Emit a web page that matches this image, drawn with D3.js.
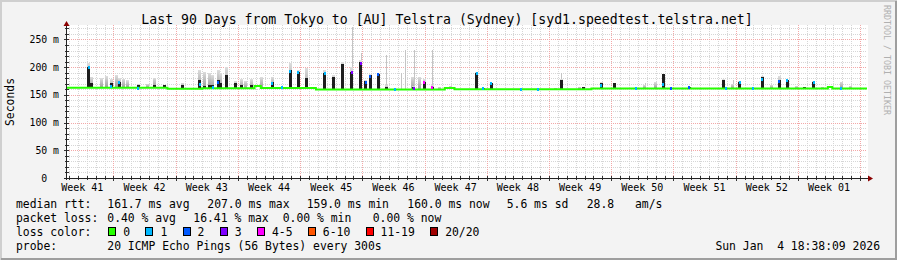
<!DOCTYPE html>
<html>
<head>
<meta charset="utf-8">
<script src="https://cdn.jsdelivr.net/npm/d3@7/dist/d3.min.js"></script>
<style>
  body { margin: 0; background: #f3f3f3; }
  svg { display: block; }
  text { font-family: "DejaVu Sans Mono", monospace; fill: #000; white-space: pre; }
</style>
</head>
<body>
<svg id="chart"></svg>
<script>
const title = "Last 90 Days from Tokyo to [AU] Telstra (Sydney) [syd1.speedtest.telstra.net]";
const startTime = Date.UTC(2025, 9, 6, 18, 38, 9);
const endTime = Date.UTC(2026, 0, 4, 18, 38, 9);
const weekLabels = ["Week 41", "Week 42", "Week 43", "Week 44", "Week 45", "Week 46", "Week 47",
                    "Week 48", "Week 49", "Week 50", "Week 51", "Week 52", "Week 01"];
const yTicks = [0, 50, 100, 150, 200, 250];
const yLabels = ["0  ", "50 m", "100 m", "150 m", "200 m", "250 m"];

// median rtt (ms), step after: [day since start, value]
const medianSteps = [[0, 163], [11.3, 161], [15.2, 162], [21.1, 166], [21.8, 162.5], [28.0, 159.5],
                     [42.5, 162.5], [43.6, 160], [59.0, 161.5], [85.6, 164], [86.1, 161.5], [90, 161.5]];

// smoke columns: [day, dark top ms, light smoke top ms]
const spikes = [
  [2.47, 201, 208], [2.81, 171, 183], [3.83, 0, 180], [4.39, 0, 184], [4.95, 171, 178],
  [5.62, 0, 186], [5.85, 174, 180], [6.41, 0, 179], [6.86, 0, 176], [7.99, 168, 170],
  [9.0, 0, 170], [9.79, 167, 181], [11.0, 168, 168], [12.94, 168, 172], [14.96, 177, 195],
  [15.5, 166, 192], [16.0, 168, 190], [16.4, 168, 186], [17.0, 177, 195], [17.3, 171, 190],
  [17.9, 186, 201], [18.9, 171, 175], [19.6, 167, 178], [20.1, 0, 175], [20.7, 167, 178],
  [21.2, 166, 166], [21.9, 0, 182], [23.1, 174, 183], [24.2, 165, 165], [25.1, 194, 208],
  [26.0, 192, 195], [26.9, 181, 198], [27.9, 163, 163], [29.0, 189, 195], [30.0, 183, 186],
  [31.05, 205, 209], [32.06, 192, 200], [33.07, 209, 212], [33.6, 175, 177], [34.1, 185, 187],
  [35.0, 187, 190], [35.9, 165, 168], [38.9, 0, 183], [39.0, 164, 166], [39.6, 0, 183],
  [40.2, 174, 178], [41.1, 165, 167], [41.85, 0, 165], [43.1, 0, 166], [46.1, 190, 192],
  [46.8, 162, 162], [47.7, 171, 172], [54.9, 0, 163], [55.6, 177, 179], [57.6, 0, 165],
  [58.1, 164, 164], [60.1, 171, 173], [61.6, 171, 171], [65.0, 0, 168], [66.2, 0, 173],
  [67.05, 188, 188], [70.0, 164, 164], [73.8, 177, 178], [74.9, 0, 170], [75.7, 174, 175],
  [78.2, 183, 184], [79.2, 0, 168], [80.1, 177, 184], [81.0, 177, 177], [82.1, 0, 166],
  [83.0, 164, 164], [84.0, 174, 175], [85.0, 0, 165], [87.1, 0, 174], [88.1, 0, 166]
];
// single outlier pings: [day, top ms]
const outliers = [[32.06, 273], [33.07, 225], [35.9, 222], [37.6, 189], [38.0, 231], [39.0, 231],
                  [41.1, 231], [55.6, 189], [65.0, 171], [74.9, 176]];
// median marks with packet loss: [day, ms, loss class]
const lossMarks = [
  [2.47, 200, 1], [4.95, 165, 1], [5.85, 172, 1], [7.99, 162, 1], [14.96, 168, 1], [16.4, 163, 1],
  [17.0, 172, 2], [23.1, 170, 1], [24.2, 163, 1], [25.1, 193, 1], [26.0, 190, 1], [29.0, 188, 1],
  [32.06, 191, 3], [33.07, 207, 3], [33.6, 173, 2], [34.1, 183, 2], [35.0, 186, 2], [36.9, 160, 1],
  [39.0, 162, 3], [40.2, 172, 4], [41.1, 163, 4], [46.1, 188, 1], [46.8, 161, 1], [47.7, 170, 1],
  [51.1, 160, 1], [53.0, 160, 1], [60.1, 166, 1], [64.0, 161, 1], [67.05, 169, 1], [67.9, 161, 2],
  [70.0, 163, 2], [74.1, 161, 1], [75.7, 172, 1], [77.2, 161, 1], [78.2, 178, 1], [80.1, 174, 2],
  [81.0, 176, 1], [84.0, 172, 1], [87.1, 161, 1]
];

const lossColors = ["#26ff00", "#00b8ff", "#0059ff", "#7e00ff", "#ff00ff", "#ff5500", "#ff0000", "#a00000"];
const lossLabels = ["0", "1", "2", "3", "4-5", "6-10", "11-19", "20/20"];
const rttStats = ["161.7 ms avg", "207.0 ms max", "159.0 ms min", "160.0 ms now", "5.6 ms sd", "28.8", "am/s"];
const lossStats = ["0.40 % avg", "16.41 % max", "0.00 % min", "0.00 % now"];
const probeText = "20 ICMP Echo Pings (56 Bytes) every 300s";
const stamp = "Sun Jan  4 18:38:09 2026";

const W = 897, H = 260;
const plot = { left: 67, right: 867, top: 25, bottom: 178 };
const DAY = 86400000;
const day = d => new Date(startTime + d * DAY);

const svg = d3.select("#chart").attr("width", W).attr("height", H);

const grad = svg.append("defs").append("linearGradient")
  .attr("id", "smokeFade").attr("x1", 0).attr("y1", 0).attr("x2", 0).attr("y2", 1);
grad.append("stop").attr("offset", "0%").attr("stop-color", "#dedede");
grad.append("stop").attr("offset", "100%").attr("stop-color", "#9a9a9a");

// frame
svg.append("rect").attr("width", W).attr("height", H).attr("fill", "#f3f3f3");
svg.append("path").attr("d", `M1,${H} V1 H${W}`).attr("stroke", "#cfcfcf").attr("stroke-width", 2).attr("fill", "none");
svg.append("path").attr("d", `M1,${H - 1} H${W - 1} V1`).attr("stroke", "#9e9e9e").attr("stroke-width", 2).attr("fill", "none");

const x = d3.scaleTime().domain([new Date(startTime), new Date(endTime)]).range([plot.left, plot.right]);
const y = d3.scaleLinear().domain([0, 276]).range([plot.bottom, plot.top]);

svg.append("rect")
  .attr("x", plot.left).attr("y", plot.top)
  .attr("width", plot.right - plot.left + 1).attr("height", plot.bottom - plot.top)
  .attr("fill", "#fff");

// grid
const grid = svg.append("g").attr("shape-rendering", "crispEdges");
const days = d3.utcDay.range(new Date(startTime), new Date(endTime));
const sundays = d3.utcSunday.range(new Date(startTime), new Date(endTime));
const minorY = d3.range(10, 280, 10).filter(v => v % 50 !== 0);
const majorY = yTicks.filter(v => v > 0);

grid.selectAll(".vmin").data(days.filter(d => d.getUTCDay() !== 0)).join("line")
  .attr("x1", d => Math.round(x(d)) + 0.5).attr("x2", d => Math.round(x(d)) + 0.5)
  .attr("y1", plot.top).attr("y2", plot.bottom)
  .attr("stroke", "#d6d6d6").attr("stroke-dasharray", "1,1");
grid.selectAll(".hmin").data(minorY).join("line")
  .attr("x1", plot.left).attr("x2", plot.right)
  .attr("y1", d => Math.round(y(d)) + 0.5).attr("y2", d => Math.round(y(d)) + 0.5)
  .attr("stroke", "#d6d6d6").attr("stroke-dasharray", "1,1");
grid.selectAll(".vmaj").data(sundays).join("line")
  .attr("x1", d => Math.round(x(d)) + 0.5).attr("x2", d => Math.round(x(d)) + 0.5)
  .attr("y1", plot.top).attr("y2", plot.bottom)
  .attr("stroke", "#f3a8a8").attr("stroke-dasharray", "1,1");
grid.selectAll(".hmaj").data(majorY).join("line")
  .attr("x1", plot.left).attr("x2", plot.right)
  .attr("y1", d => Math.round(y(d)) + 0.5).attr("y2", d => Math.round(y(d)) + 0.5)
  .attr("stroke", "#f3a8a8").attr("stroke-dasharray", "1,1");

// smoke
const medianAt = d => { let v = medianSteps[0][1]; medianSteps.forEach(s => { if (s[0] <= d) v = s[1]; }); return v; };
const smoke = svg.append("g").attr("shape-rendering", "crispEdges");
smoke.selectAll(".out").data(outliers).join("rect")
  .attr("x", d => Math.round(x(day(d[0])))).attr("width", 1)
  .attr("y", d => y(d[1])).attr("height", d => y(medianAt(d[0])) - y(d[1]))
  .attr("fill", "#c4c4c4");
smoke.selectAll(".light").data(spikes).join("rect")
  .attr("x", d => Math.round(x(day(d[0])) - 1.5)).attr("width", 3)
  .attr("y", d => y(d[2])).attr("height", d => Math.max(0, y(medianAt(d[0])) - y(d[2])))
  .attr("fill", "url(#smokeFade)");
smoke.selectAll(".dark").data(spikes.filter(d => d[1] > 0)).join("rect")
  .attr("x", d => Math.round(x(day(d[0])) - 1.5)).attr("width", 3)
  .attr("y", d => y(d[1])).attr("height", d => Math.max(0, y(medianAt(d[0])) - y(d[1])))
  .attr("fill", "#1e1e1e");

// median line
const medianLine = d3.line().x(d => x(day(d[0]))).y(d => y(d[1])).curve(d3.curveStepAfter);
svg.append("path").datum(medianSteps).attr("d", medianLine)
  .attr("fill", "none").attr("stroke", lossColors[0]).attr("stroke-width", 2);

svg.append("g").attr("shape-rendering", "crispEdges")
  .selectAll("rect").data(lossMarks).join("rect")
  .attr("x", d => Math.round(x(day(d[0])) - 1)).attr("width", 2)
  .attr("y", d => y(d[1]) - 1.5).attr("height", 3)
  .attr("fill", d => lossColors[d[2]]);

// axes
const axisG = svg.append("g").attr("shape-rendering", "crispEdges");
axisG.selectAll(".ytick").data(d3.range(0, 280, 10)).join("line")
  .attr("x1", d => d % 50 === 0 ? plot.left - 3 : plot.left - 2).attr("x2", plot.left + 2)
  .attr("y1", d => Math.round(y(d)) + 0.5).attr("y2", d => Math.round(y(d)) + 0.5)
  .attr("stroke", "#333");
axisG.selectAll(".xtick").data(days).join("line")
  .attr("x1", d => Math.round(x(d)) + 0.5).attr("x2", d => Math.round(x(d)) + 0.5)
  .attr("y1", plot.bottom - 2).attr("y2", d => d.getUTCDay() === 0 ? plot.bottom + 3 : plot.bottom + 2)
  .attr("stroke", "#333");
axisG.append("line").attr("x1", plot.left - 0.5).attr("x2", plot.left - 0.5)
  .attr("y1", plot.bottom + 2).attr("y2", plot.top - 2).attr("stroke", "#222");
axisG.append("line").attr("x1", plot.left - 3).attr("x2", plot.right + 3)
  .attr("y1", plot.bottom + 0.5).attr("y2", plot.bottom + 0.5).attr("stroke", "#222");
svg.append("path")
  .attr("d", `M${plot.left - 3.5},${plot.top + 1} L${plot.left - 0.5},${plot.top - 4} L${plot.left + 2.5},${plot.top + 1} Z`)
  .attr("fill", "#8b0000");
svg.append("path")
  .attr("d", `M${plot.right + 1},${plot.bottom - 2.5} L${plot.right + 6},${plot.bottom + 0.5} L${plot.right + 1},${plot.bottom + 3.5} Z`)
  .attr("fill", "#8b0000");

const yAxis = d3.axisLeft(y).tickValues(yTicks).tickSize(0).tickPadding(0)
  .tickFormat((d, i) => yLabels[i]);
svg.append("g").attr("transform", `translate(${plot.left - 8},3)`).call(yAxis)
  .call(g => g.select(".domain").remove())
  .selectAll("text").attr("font-size", "9.8px").attr("font-family", "DejaVu Sans Mono").attr("dy", 0);

const weekStarts = d3.utcSunday.range(new Date(Date.UTC(2025, 9, 5)), new Date(endTime));
svg.append("g").selectAll("text").data(weekStarts).join("text")
  .attr("x", d => x(new Date(+d + 3.5 * DAY)))
  .attr("y", 191)
  .attr("text-anchor", "middle").attr("font-size", "10px")
  .text((d, i) => weekLabels[i]);

svg.append("text").attr("transform", "translate(14,102) rotate(-90)")
  .attr("text-anchor", "middle").attr("font-size", "11.4px").text("Seconds");

svg.append("text").attr("x", 447).attr("y", 24).attr("text-anchor", "middle")
  .attr("font-size", "13.2px").text(title);

svg.append("text").attr("transform", "translate(884,5) rotate(90)")
  .attr("font-size", "8.3px").style("fill", "#b0b0b0").text("RRDTOOL / TOBI OETIKER");

// legend
const leg = svg.append("g").attr("font-size", "11.4px");
const rttX = [107.3, 207.3, 306.7, 407.3, 506.7, 586.7, 635];
const lossX = [107.3, 193.3, 282.7, 372.7];
leg.append("text").attr("x", 16).attr("y", 207.5).text("median rtt:");
leg.selectAll(".rtt").data(rttStats).join("text").attr("x", (d, i) => rttX[i]).attr("y", 207.5).text(d => d);
leg.append("text").attr("x", 16).attr("y", 221.5).text("packet loss:");
leg.selectAll(".pl").data(lossStats).join("text").attr("x", (d, i) => lossX[i]).attr("y", 221.5).text(d => d);
leg.append("text").attr("x", 16).attr("y", 235.5).text("loss color:");
let lx = 108.3;
lossLabels.forEach((lab, i) => {
  leg.append("rect").attr("x", lx + 0.5).attr("y", 227.5).attr("width", 7).attr("height", 8)
    .attr("fill", lossColors[i]).attr("stroke", "#000").attr("shape-rendering", "crispEdges");
  const t = leg.append("text").attr("x", lx + 15).attr("y", 235.5).text(lab);
  lx = lx + 15 + t.node().getComputedTextLength() + 15.3;
});
leg.append("text").attr("x", 16).attr("y", 249.5).text("probe:");
leg.append("text").attr("x", 107.3).attr("y", 249.5).text(probeText);
leg.append("text").attr("x", 880).attr("y", 249.5).attr("text-anchor", "end").text(stamp);
</script>
</body>
</html>
